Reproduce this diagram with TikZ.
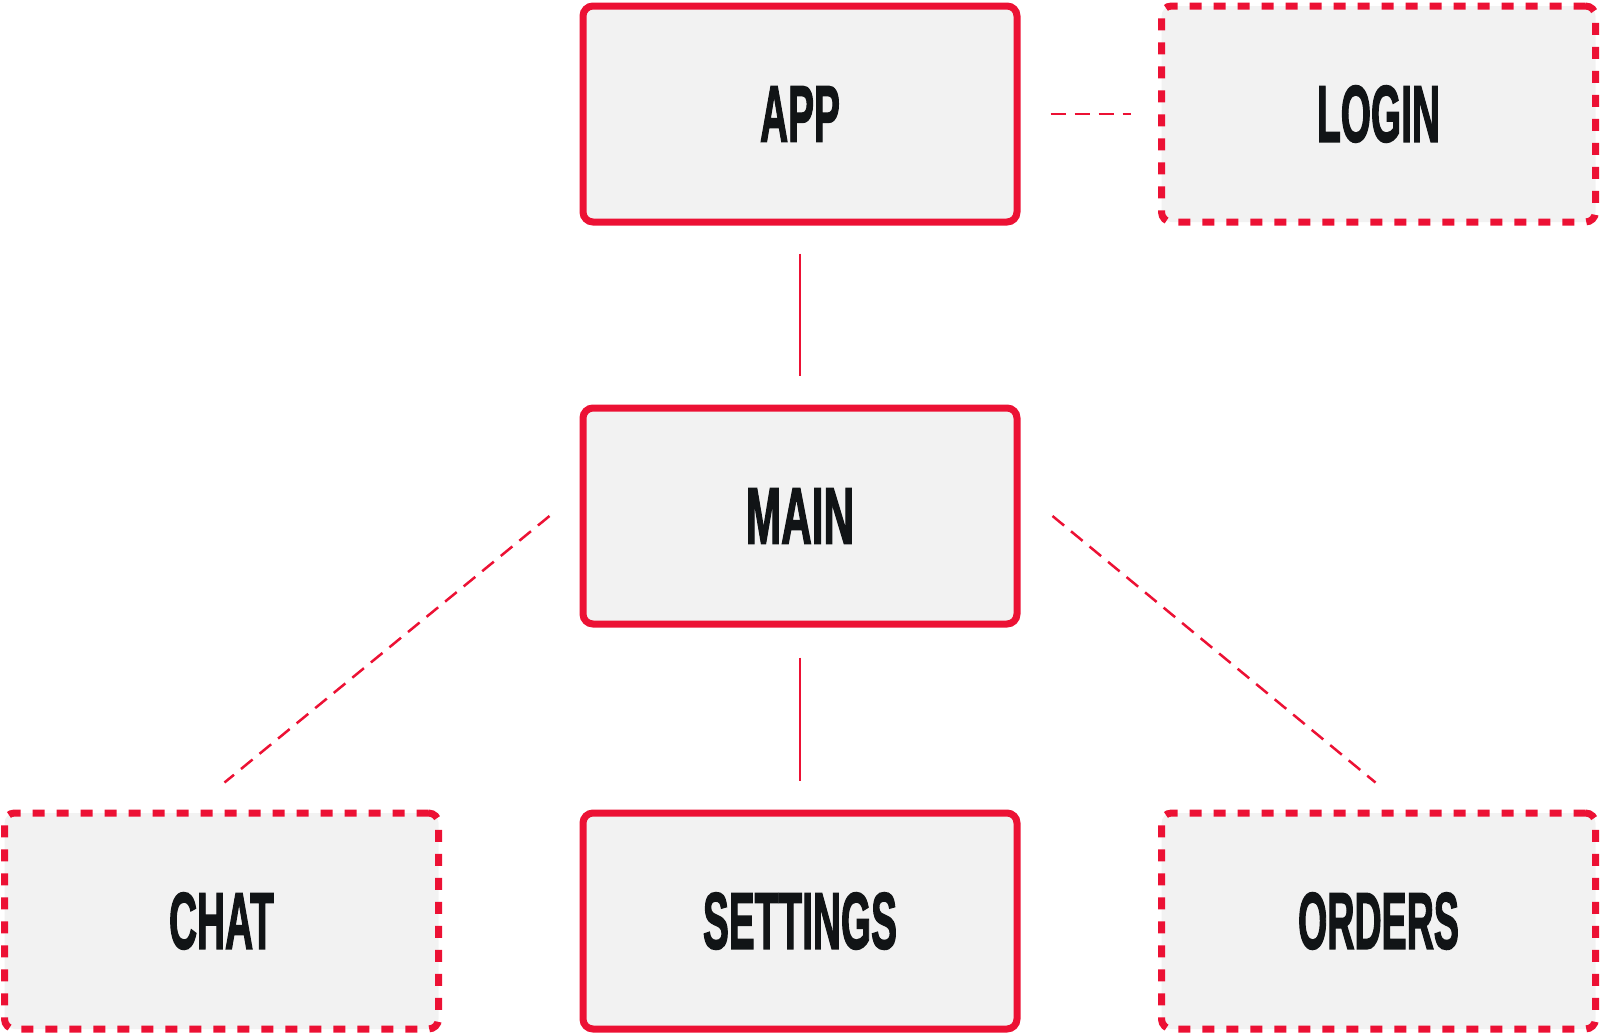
\documentclass[tikz,border=0pt]{standalone}
\usepackage{fontspec}
\newfontfamily\lblfont[FakeBold=2.4]{Liberation Sans}
\definecolor{brandred}{RGB}{236,17,52}
\definecolor{boxfill}{RGB}{242,242,242}
\definecolor{ink}{RGB}{17,20,22}
\newcommand{\lbltext}[2][0.485]{\scalebox{#1}[1]{#2}}
\begin{document}
\begin{tikzpicture}[x=1pt,y=-1pt,
  box/.style={rectangle, rounded corners=10pt, draw=brandred, line width=7pt,
    fill=boxfill, minimum width=434pt, minimum height=216pt, inner sep=0pt,
    text=ink, font=\lblfont\bfseries\fontsize{80}{80}\selectfont},
  optbox/.style={box, dash pattern=on 12pt off 12pt},
  link/.style={draw=brandred, line width=2.5pt},
  optlink/.style={link, dash pattern=on 15pt off 9pt}]
\useasboundingbox (0,0) rectangle (1600,1034);

\node[box]    (app)      at (800,114)    {\lbltext{APP}};
\node[optbox] (login)    at (1378.5,114) {\lbltext{LOGIN}};
\node[box]    (main)     at (800,516)    {\lbltext[0.53]{MAIN}};
\node[optbox] (chat)     at (221.5,921)  {\lbltext{CHAT}};
\node[box]    (settings) at (800,921)    {\lbltext{SETTINGS}};
\node[optbox] (orders)   at (1378.5,921) {\lbltext[0.47]{ORDERS}};

\draw[optlink, shorten <=30pt, shorten >=27pt] (app.east) -- (login.west);
\draw[link, shorten <=28pt, shorten >=29pt] (app.south) -- (main.north);
\draw[link, shorten <=30pt, shorten >=29pt] (main.south) -- (settings.north);

\coordinate (mainW) at ([xshift=-30pt]main.west);
\coordinate (chatN) at ([xshift=3pt,yshift=27pt]chat.north);
\coordinate (mainE) at ([xshift=32pt]main.east);
\coordinate (ordersN) at ([xshift=-3pt,yshift=27pt]orders.north);
\draw[optlink] (mainW) -- (chatN);
\draw[optlink] (mainE) -- (ordersN);
\end{tikzpicture}
\end{document}
